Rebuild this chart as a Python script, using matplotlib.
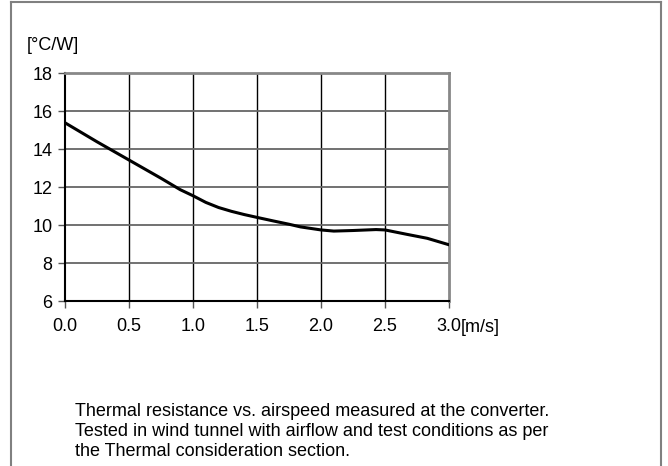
import matplotlib
matplotlib.use('Agg')
import matplotlib.pyplot as plt
from matplotlib.lines import Line2D

plt.rcParams['font.family'] = ['Liberation Sans', 'DejaVu Sans']

# airspeed [m/s] and thermal resistance [C/W]
airspeed = [0.0, 0.25, 0.5, 0.75, 0.9, 1.0, 1.1, 1.2, 1.3, 1.4, 1.5, 1.63, 1.75,
            1.84, 2.0, 2.1, 2.25, 2.43, 2.5, 2.67, 2.83, 3.0]
resistance = [15.38, 14.38, 13.42, 12.46, 11.86, 11.54, 11.19, 10.92, 10.72, 10.55, 10.40, 10.21, 10.04,
              9.90, 9.74, 9.68, 9.71, 9.76, 9.74, 9.51, 9.30, 8.96]

x_ticks = [0.0, 0.5, 1.0, 1.5, 2.0, 2.5, 3.0]
x_labels = ['0.0', '0.5', '1.0', '1.5', '2.0', '2.5', '3.0']
y_ticks = [6, 8, 10, 12, 14, 16, 18]

caption = ['Thermal resistance vs. airspeed measured at the converter.',
           'Tested in wind tunnel with airflow and test conditions as per',
           'the Thermal consideration section.']

fig = plt.figure(figsize=(6.68, 4.66), dpi=100)
W, H = 668.0, 466.0
fs = 13

# outer frame (open at the bottom)
frame_col = '#808080'
fig.add_artist(Line2D([11/W, 11/W], [0, 1-2/H], color=frame_col, lw=1.5, transform=fig.transFigure))
fig.add_artist(Line2D([661/W, 661/W], [0, 1-2/H], color=frame_col, lw=1.5, transform=fig.transFigure))
fig.add_artist(Line2D([11/W, 661/W], [1-2/H, 1-2/H], color=frame_col, lw=1.5, transform=fig.transFigure))

ax = fig.add_axes([65/W, 1-301/H, 384/W, 228/H])
ax.plot(airspeed, resistance, color='black', lw=2.2, solid_joinstyle='round', zorder=3)
ax.set_xlim(0, 3)
ax.set_ylim(6, 18)
ax.set_xticks(x_ticks)
ax.set_xticklabels(x_labels)
ax.set_yticks(y_ticks)
ax.tick_params(labelsize=fs, direction='out', length=5, width=1, color='#555555', pad=7)
ax.tick_params(axis='y', pad=4)

for xv in x_ticks[1:-1]:
    ax.axvline(xv, color='black', lw=1, zorder=1)
for yv in y_ticks[1:-1]:
    ax.axhline(yv, color='#666666', lw=1.3, zorder=1)

ax.spines['left'].set_color('black')
ax.spines['left'].set_linewidth(1.5)
ax.spines['bottom'].set_color('black')
ax.spines['bottom'].set_linewidth(1.5)
ax.spines['top'].set_color('#888888')
ax.spines['top'].set_linewidth(2)
ax.spines['right'].set_color('#888888')
ax.spines['right'].set_linewidth(2)

fig.text(27/W, 1-45/H, '[°C/W]', fontsize=fs, ha='left', va='center')
fig.text(461/W, 1-327/H, '[m/s]', fontsize=fs, ha='left', va='center')

for i, line in enumerate(caption):
    fig.text(75/W, 1-(411 + 20.5*i)/H, line, fontsize=fs, ha='left', va='center')

fig.savefig('out.png', dpi=100)
